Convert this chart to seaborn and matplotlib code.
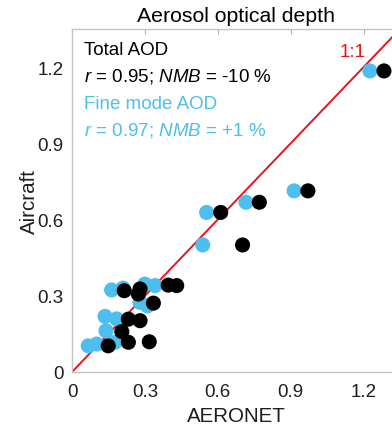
import matplotlib
matplotlib.use("Agg")
import matplotlib.pyplot as plt
import seaborn as sns
import pandas as pd

# Fine mode AOD (blue) points
fine_aeronet = [0.163, 0.21, 0.300, 0.342, 0.280, 0.31, 0.136, 0.184, 0.140, 0.067, 0.102, 0.177,
                0.538, 0.554, 0.716, 0.914, 1.226]
fine_aircraft = [0.323, 0.33, 0.346, 0.340, 0.274, 0.26, 0.219, 0.209, 0.162, 0.103, 0.110, 0.117,
                 0.500, 0.628, 0.668, 0.713, 1.185]
# Total AOD (black) points
total_aeronet = [0.215, 0.280, 0.273, 0.335, 0.396, 0.431, 0.232, 0.280, 0.205, 0.149, 0.232, 0.318,
                 0.702, 0.612, 0.771, 0.971, 1.284]
total_aircraft = [0.320, 0.327, 0.307, 0.271, 0.342, 0.340, 0.208, 0.202, 0.159, 0.103, 0.117, 0.119,
                  0.500, 0.628, 0.668, 0.713, 1.185]

ticks = [0, 0.3, 0.6, 0.9, 1.2]
tick_labels = ["0", "0.3", "0.6", "0.9", "1.2"]

BLUE = "#4DBEEE"

sns.set_style("white")
plt.rcParams["font.family"] = ["Liberation Sans", "DejaVu Sans"]
plt.rcParams["mathtext.fontset"] = "custom"
plt.rcParams["mathtext.rm"] = "Liberation Sans"
plt.rcParams["mathtext.it"] = "Liberation Sans:italic"

df = pd.DataFrame({
    "AERONET": fine_aeronet + total_aeronet,
    "Aircraft": fine_aircraft + total_aircraft,
    "kind": ["Fine"] * len(fine_aeronet) + ["Total"] * len(total_aeronet),
})

fig = plt.figure(figsize=(3.92, 4.31), dpi=100)
W, H = 392, 431
x0, x1, ytop, ybot = 72, 400, 30, 373
ax = fig.add_axes([x0 / W, (H - ybot) / H, (x1 - x0) / W, (ybot - ytop) / H])

ax.axline((0, 0), slope=1, color="#E8141B", lw=1.4, zorder=1)

sns.scatterplot(data=df, x="AERONET", y="Aircraft", hue="kind",
                palette={"Fine": BLUE, "Total": "black"}, s=118,
                edgecolor="none", linewidth=0, legend=False, ax=ax, zorder=3)

ax.set_xlim(0, 1.35)
ax.set_ylim(0, 1.35)
ax.set_xticks(ticks)
ax.set_xticklabels(tick_labels)
ax.set_yticks(ticks)
ax.set_yticklabels(tick_labels)

for s in ax.spines.values():
    s.set_color("#c4c4c4")
    s.set_linewidth(1.0)
ax.tick_params(direction="in", length=3.5, width=0.8, color="#b0b0b0",
               labelsize=13.5, labelcolor="#1e1e1e", top=True, right=True)
ax.tick_params(axis="x", pad=8)
ax.tick_params(axis="y", pad=6)

ax.set_xlabel("AERONET", fontsize=14.8, color="#1e1e1e", labelpad=4)
ax.set_ylabel("Aircraft", fontsize=14.8, color="#1e1e1e", labelpad=-1)
ax.set_title("Aerosol optical depth", fontsize=15.3, color="black", pad=6)

ax.text(1.157, 1.26, "1:1", color="#E8141B", fontsize=13.5, ha="center", va="center")

tx = 0.0366
ax.text(tx, 0.939, "Total AOD", transform=ax.transAxes, fontsize=13.5, color="black", va="center")
ax.text(tx, 0.863, "$r$ = 0.95; $NMB$ = -10 %", transform=ax.transAxes, fontsize=13.5,
        color="black", va="center")
ax.text(tx, 0.784, "Fine mode AOD", transform=ax.transAxes, fontsize=13.5, color=BLUE, va="center")
ax.text(tx, 0.706, "$r$ = 0.97; $NMB$ = +1 %", transform=ax.transAxes, fontsize=13.5,
        color=BLUE, va="center")

fig.savefig("out.png", dpi=100)
